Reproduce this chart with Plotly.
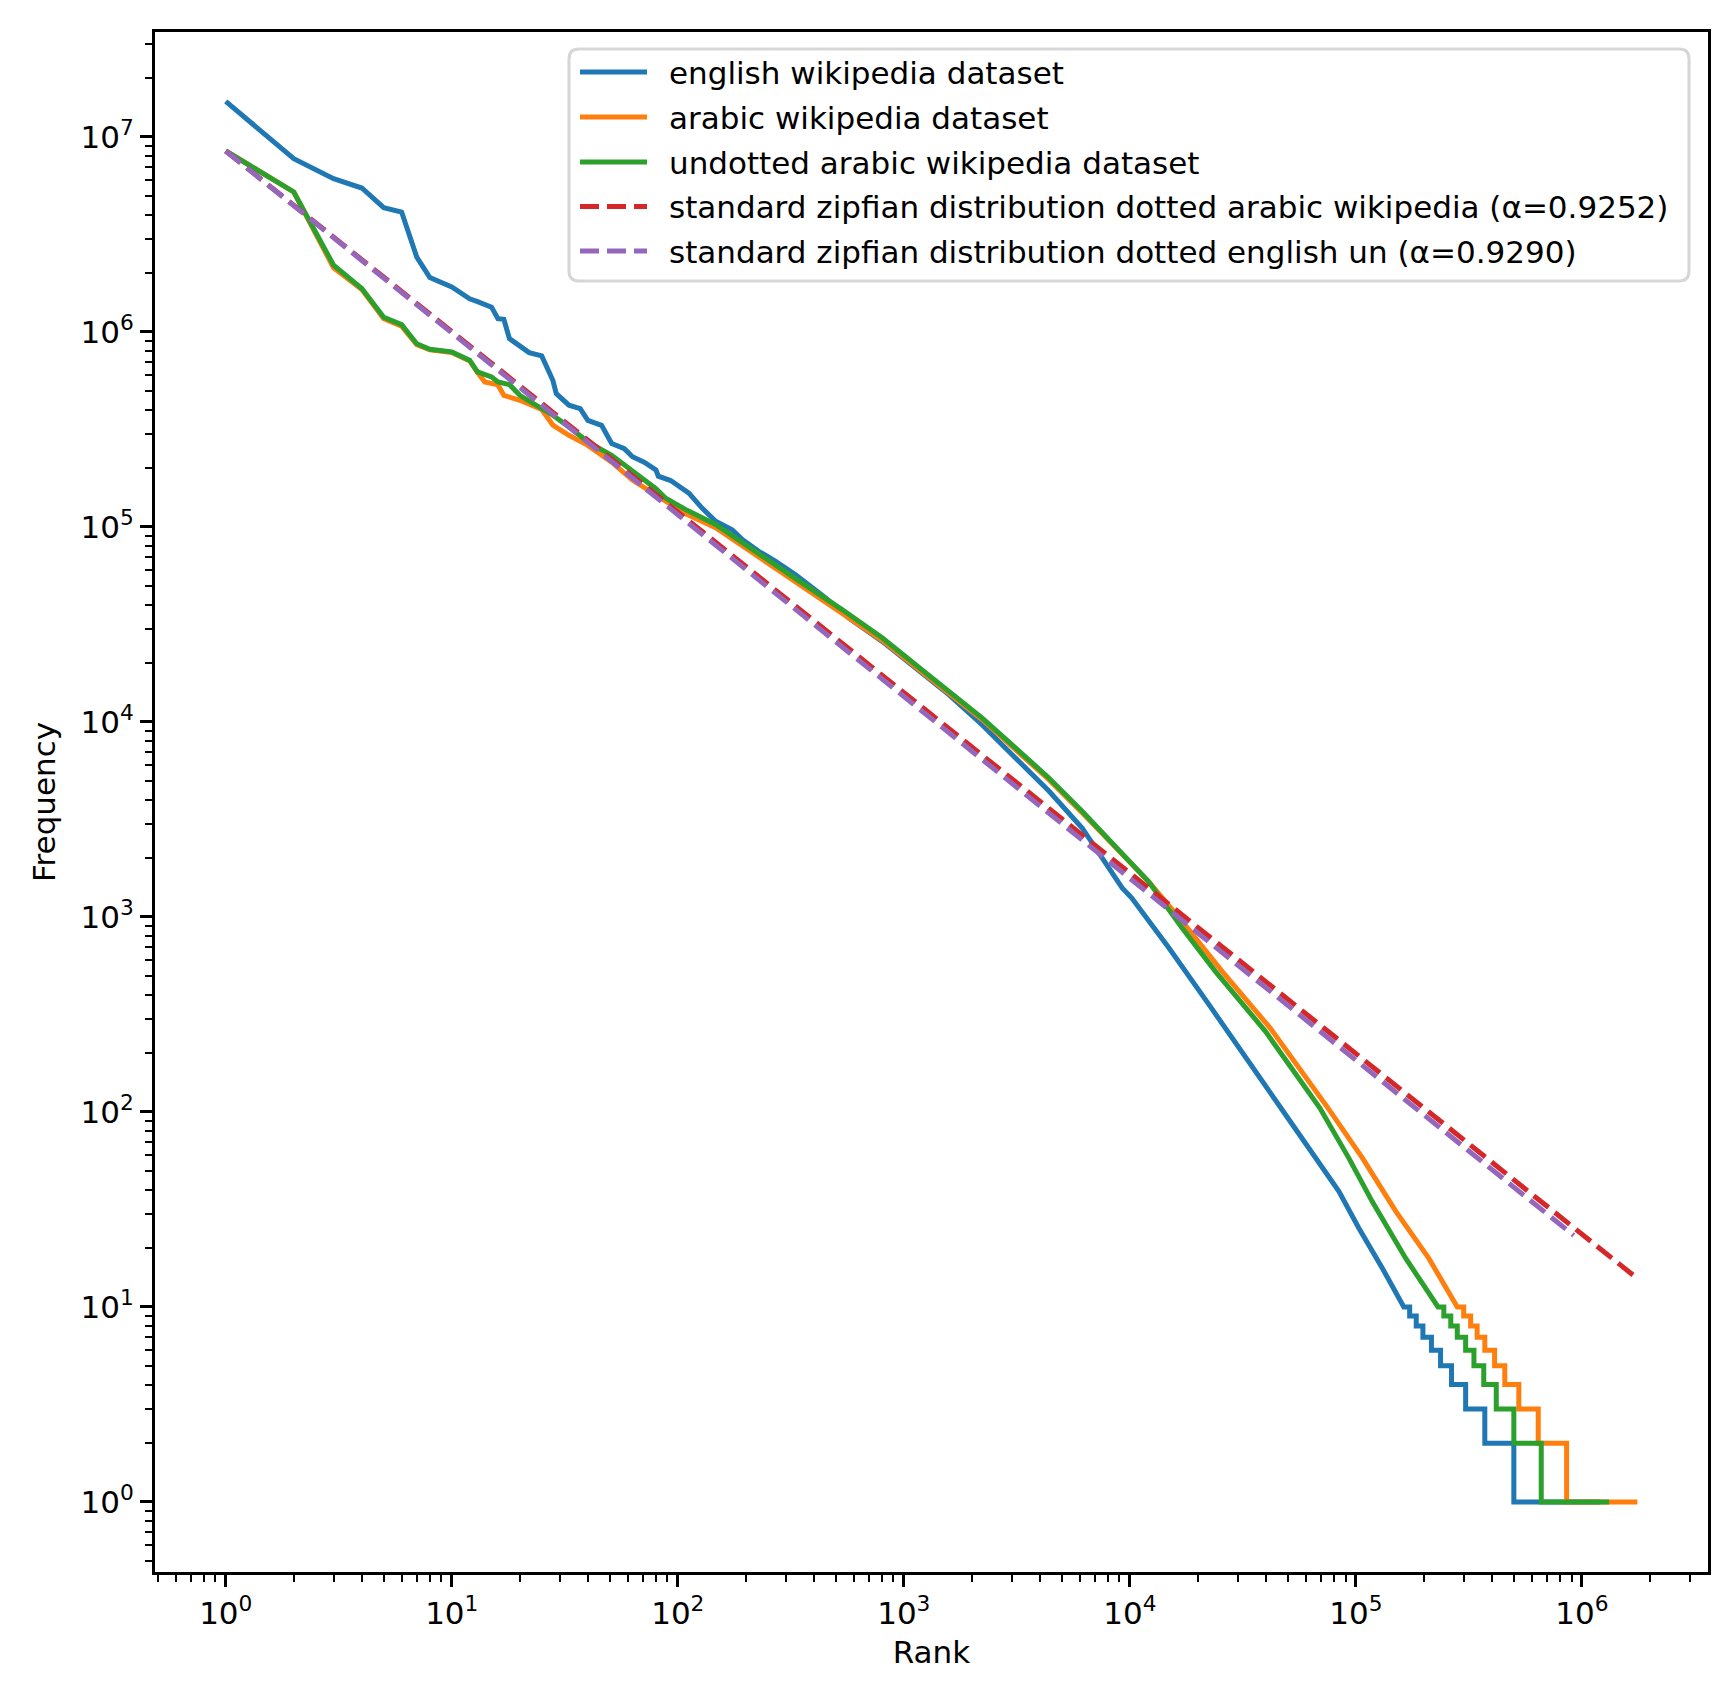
import plotly.graph_objects as go

# ---- data (rank, frequency) ----
en_rank = [1, 2, 3, 4, 5, 6, 7, 8, 10, 12, 13, 15, 16, 17, 18, 20, 22, 25, 28, 29, 33, 37, 40, 46, 51, 58, 63, 71, 80,
           82, 93, 112, 128, 147, 174, 193, 228, 270, 332, 451, 571, 802, 1127, 1581, 2218, 3119, 4385, 6152, 9247,
           10200, 14900, 22400, 33700, 53700, 84100, 103000, 131000]
en_freq = [1.52e7, 7.74e6, 6.11e6, 5.47e6, 4.34e6, 4.12e6, 2.42e6, 1.90e6, 1.70e6, 1.48e6, 1.43e6, 1.34e6, 1.17e6,
           1.16e6, 9.24e5, 8.47e5, 7.83e5, 7.53e5, 5.65e5, 4.83e5, 4.21e5, 4.04e5, 3.52e5, 3.32e5, 2.68e5, 2.52e5,
           2.29e5, 2.15e5, 1.96e5,
           1.82e5, 1.73e5, 1.49e5, 1.25e5, 1.07e5, 9.68e4, 8.61e4, 7.50e4, 6.67e4, 5.69e4, 4.33e4, 3.41e4, 2.59e4,
           1.89e4, 1.38e4, 9680, 6530, 4420, 2860, 1409,
           1250, 693, 355, 182, 82.8, 39.2, 25.4, 15.8]
# tail: first rank of each integer frequency level
en_step_freq = [10, 9, 8, 7, 6, 5, 4, 3, 2, 1]
en_step_start = [163000, 173000, 185000, 198000, 216000, 237000, 265000, 306000, 372000, 500000]
en_last = 1200000

ar_rank = [1, 2, 3, 4, 5, 6, 7, 8, 10, 12, 13, 14, 16, 17, 20, 25, 28, 33, 40, 51, 63, 80,
           88, 108, 147, 206, 321, 533, 802, 1334, 2218, 3119, 4385, 6152, 8650, 12100,
           17000, 25600, 41700, 75200, 107000, 150000, 210000]
ar_freq = [8.47e6, 5.22e6, 2.13e6, 1.65e6, 1.17e6, 1.07e6, 8.6e5, 8.1e5, 7.85e5, 7.1e5, 6.2e5, 5.54e5, 5.35e5,
           4.73e5, 4.46e5, 4.0e5, 3.33e5, 2.95e5, 2.62e5, 2.15e5, 1.74e5, 1.46e5,
           1.36e5, 1.17e5, 9.9e4, 7.6e4, 5.35e4, 3.65e4, 2.62e4, 1.64e4, 1.03e4, 7200, 5060, 3420, 2280, 1520,
           951, 526, 270, 105, 58, 31, 17.8]
ar_step_freq = [10, 9, 8, 7, 6, 5, 4, 3, 2, 1]
ar_step_start = [281000, 300000, 322000, 344000, 372000, 411000, 456000, 526000, 641000, 856000]
ar_last = 1760000

un_rank = [1, 2, 3, 4, 5, 6, 7, 8, 10, 12, 13, 15, 16, 18, 20, 25, 28, 33, 40, 51, 63, 80,
           88, 108, 147, 206, 321, 533, 802, 1334, 2218, 3119, 4385, 6152, 8650, 12100,
           17000, 23900, 39800, 69200, 93100, 118000, 166000]
un_freq = [8.47e6, 5.22e6, 2.20e6, 1.67e6, 1.19e6, 1.09e6, 8.7e5, 8.15e5, 7.9e5, 7.16e5, 6.24e5, 5.88e5, 5.54e5,
           5.37e5, 4.73e5, 4.04e5, 3.74e5, 3.26e5, 2.73e5, 2.33e5, 1.92e5, 1.57e5,
           1.41e5, 1.23e5, 1.03e5, 7.96e4, 5.58e4, 3.77e4, 2.70e4, 1.68e4, 1.05e4, 7360, 5160, 3480, 2310, 1520,
           879, 526, 259, 105, 58, 34.8, 17.8]
un_step_freq = [10, 9, 8, 7, 6, 5, 4, 3, 2, 1]
un_step_start = [231000, 245000, 263000, 281000, 306000, 333000, 368000, 418000, 500000, 661000]
un_last = 1320000

zipf_ar_rank = [1, 1760000]
zipf_ar_freq = [8.47e6, 14.0]
zipf_en_rank = [1, 920000]
zipf_en_freq = [8.47e6, 23.3]

legend_labels = [
    "english wikipedia dataset",
    "arabic wikipedia dataset",
    "undotted arabic wikipedia dataset",
    "standard zipfian distribution dotted arabic wikipedia (α=0.9252)",
    "standard zipfian distribution dotted english un (α=0.9290)",
]
colors = ["#1f77b4", "#ff7f0e", "#2ca02c", "#d62728", "#9467bd"]
dashes = ["solid", "solid", "solid", "19px,8px", "19px,8px"]


def with_steps(rank, freq, step_start, step_freq, last):
    xs, ys = list(rank), list(freq)
    ends = step_start[1:] + [last]
    for s, e, f in zip(step_start, ends, step_freq):
        xs += [s, e]
        ys += [f, f]
    return xs, ys


FONT = "DejaVu Sans"
FS = 31
W, H = 1721, 1689
L, R, T, B = 147, 21, 24, 125
PW, PH = W - L - R, H - T - B


def px(x):
    return (x - L) / PW


def py(y):
    return (H - B - y) / PH


fig = go.Figure()

curves = [
    with_steps(en_rank, en_freq, en_step_start, en_step_freq, en_last),
    with_steps(ar_rank, ar_freq, ar_step_start, ar_step_freq, ar_last),
    with_steps(un_rank, un_freq, un_step_start, un_step_freq, un_last),
    (zipf_ar_rank, zipf_ar_freq),
    (zipf_en_rank, zipf_en_freq),
]
for (xs, ys), name, color, dash in zip(curves, legend_labels, colors, dashes):
    fig.add_trace(go.Scatter(x=xs, y=ys, mode="lines", name=name, showlegend=False,
                             line=dict(color=color, width=5, dash=dash)))

# ---- legend drawn by hand (matplotlib-like box, long handles) ----
bx0, bx1, by0, by1, rad = 561, 1681, 41, 273, 10
path = ("M %f,%f L %f,%f Q %f,%f %f,%f L %f,%f Q %f,%f %f,%f L %f,%f Q %f,%f %f,%f L %f,%f Q %f,%f %f,%f Z" % (
    px(bx0 + rad), py(by0), px(bx1 - rad), py(by0), px(bx1), py(by0), px(bx1), py(by0 + rad),
    px(bx1), py(by1 - rad), px(bx1), py(by1), px(bx1 - rad), py(by1),
    px(bx0 + rad), py(by1), px(bx0), py(by1), px(bx0), py(by1 - rad),
    px(bx0), py(by0 + rad), px(bx0), py(by0), px(bx0 + rad), py(by0)))
fig.add_shape(type="path", path=path, xref="paper", yref="paper",
              line=dict(color="#d6d6d6", width=3), fillcolor="rgba(255,255,255,0.8)", layer="above")
row_y = [64, 109, 154, 198.5, 243]
for yy, name, color, dash in zip(row_y, legend_labels, colors, dashes):
    fig.add_shape(type="line", xref="paper", yref="paper", x0=px(572), x1=px(639), y0=py(yy), y1=py(yy),
                  line=dict(color=color, width=5, dash=dash), layer="above")
    fig.add_annotation(x=px(659), y=py(yy + 1), xref="paper", yref="paper", text=name, showarrow=False,
                       xanchor="left", yanchor="middle", font=dict(family=FONT, size=FS, color="black"))

tick_vals_x = [10 ** i for i in range(7)]
tick_vals_y = [10 ** i for i in range(8)]

axis_common = dict(
    type="log", showgrid=False, zeroline=False, automargin=False,
    showline=True, linecolor="black", linewidth=3, mirror=True,
    ticks="outside", ticklen=12, tickwidth=3, tickcolor="black",
    tickfont=dict(family=FONT, size=FS, color="black"),
    minor=dict(ticks="outside", ticklen=7, tickwidth=2, tickcolor="black", dtick="D1", showgrid=False),
)

fig.update_xaxes(range=[-0.313, 6.558], tickvals=tick_vals_x,
                 ticktext=["10<sup>%d</sup>" % i for i in range(7)],
                 title=dict(text="Rank", font=dict(family=FONT, size=FS, color="black"), standoff=12),
                 **axis_common)
fig.update_yaxes(range=[-0.359, 7.538], tickvals=tick_vals_y,
                 ticktext=["10<sup>%d</sup>" % i for i in range(8)],
                 title=dict(text="Frequency", font=dict(family=FONT, size=FS, color="black"), standoff=16),
                 **axis_common)

fig.update_layout(
    width=W, height=H,
    margin=dict(l=L, r=R, t=T, b=B),
    paper_bgcolor="white", plot_bgcolor="white",
    font=dict(family=FONT, size=FS, color="black"),
    showlegend=False,
)

fig.write_html("out.html")
